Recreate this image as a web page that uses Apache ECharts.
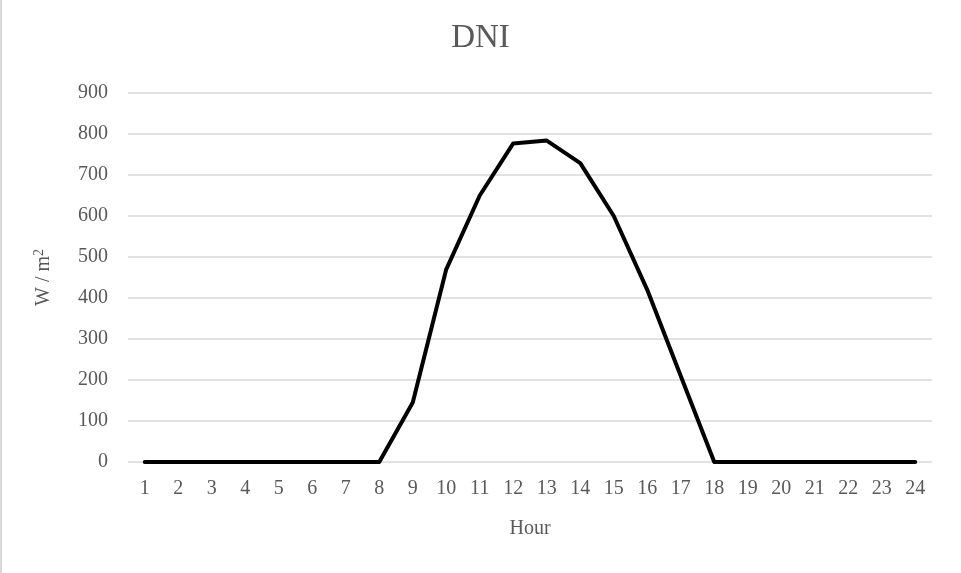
<!DOCTYPE html>
<html><head><meta charset="utf-8">
<script src="https://cdn.jsdelivr.net/npm/echarts@6/dist/echarts.min.js"></script>
<style>html,body{margin:0;padding:0;background:#fff}#c{width:961px;height:573px}</style>
</head><body><div id="c"></div>
<script>
const hours = ['1','2','3','4','5','6','7','8','9','10','11','12','13','14','15','16','17','18','19','20','21','22','23','24'];
const dni = [0,0,0,0,0,0,0,0,145,470,650,777,784,729,600,420,210,0,0,0,0,0,0,0];
const yTicks = {min:0, max:900, interval:100};
const font = '"Liberation Serif", "DejaVu Serif", serif';
const chart = echarts.init(document.getElementById('c'));
chart.setOption({
  animation:false,
  graphic:[{type:'rect', left:0, top:0, shape:{x:0,y:0,width:2,height:573}, style:{fill:'#d9d9d9'}, silent:true}],
  title:{text:'DNI', left:'center', top:17, textStyle:{fontFamily:font, fontSize:33, fontWeight:'normal', color:'#595959'}},
  grid:{left:128, right:29, top:93, bottom:111},
  xAxis:{type:'category', data:hours, boundaryGap:true,
    name:'Hour', nameLocation:'middle', nameGap:57,
    nameTextStyle:{fontFamily:font, fontSize:20, color:'#595959'},
    axisLine:{show:false}, axisTick:{show:false},
    axisLabel:{fontFamily:font, fontSize:20, color:'#595959', margin:17}},
  yAxis:{type:'value', min:yTicks.min, max:yTicks.max, interval:yTicks.interval,
    name:'{a|W / m}{b|2}', nameLocation:'middle', nameGap:72, nameRotate:90,
    nameTextStyle:{fontFamily:font, fontSize:20, color:'#595959',
      rich:{a:{fontFamily:font, fontSize:20, color:'#595959'},
            b:{fontFamily:font, fontSize:14, color:'#595959', verticalAlign:'top', padding:[0,0,10,0]}}},
    axisLine:{show:false}, axisTick:{show:false},
    axisLabel:{fontFamily:font, fontSize:20, color:'#595959', margin:20},
    splitLine:{lineStyle:{color:'#d9d9d9', width:1.5}}},
  series:[{type:'line', data:dni, symbol:'none', lineStyle:{color:'#000', width:4, cap:'round', join:'round'}}]
});
</script></body></html>
